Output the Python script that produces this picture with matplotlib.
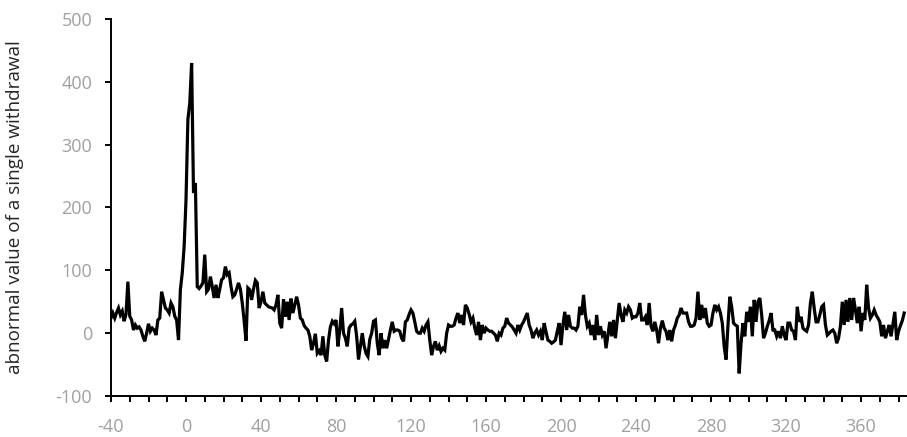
import numpy as np
import matplotlib
matplotlib.use("Agg")
import matplotlib.pyplot as plt

# Daily abnormal value of a single withdrawal, day -40 to day 383
start_day = -40
abnormal_values = [
    24, 32, 24, 33, 40, 29, 35, 19, 30, 82,          # -40 .. -31
    27, 21, 5, 13, 8, 10, 5, -5, -13, 0,             # -30 .. -21
    15, 3, 8, 5, -3, 21, 24, 66, 53, 40,             # -20 .. -11
    37, 32, 48, 42, 27, 21, -11, 69, 96, 138,        # -10 .. -1
    212, 340, 366, 430, 223, 239, 74, 71, 75, 80,    # 0 .. 9
    125, 66, 70, 90, 74, 56, 77, 56, 70, 85,         # 10 .. 19
    88, 106, 93, 96, 74, 58, 61, 70, 80, 70,         # 20 .. 29
    48, 20, -12, 72, 69, 53, 70, 84, 80, 40,         # 30 .. 39
    50, 66, 48, 45, 42, 41, 40, 37, 45, 61,          # 40 .. 49
    16, 8, 54, 26, 50, 21, 55, 32, 45, 58,           # 50 .. 59
    45, 24, 21, 12, 8, 5, -5, -27, -16, -1,          # 60 .. 69
    -32, -28, -35, -5, -35, -45, -11, 10, 19, 15,    # 70 .. 79
    21, -21, 5, 40, 0, -8, -21, 8, 13, 15,           # 80 .. 89
    19, -5, -42, -21, 0, -20, -32, -37, -10, 0,      # 90 .. 99
    19, 21, -16, -35, 0, -24, -11, -24, -10, 5,      # 100 .. 109
    18, 3, 5, 5, 3, -8, -13, 18, 21, 30,             # 110 .. 119
    37, 32, 18, 3, 0, 0, 8, 3, 13, 18,               # 120 .. 129
    -11, -35, -21, -13, -27, -20, -29, -24, -27, 0,  # 130 .. 139
    13, 11, 11, 13, 24, 32, 16, 29, 13, 45,          # 140 .. 149
    40, 30, 18, 24, 8, -3, 18, -11, 13, 0,           # 150 .. 159
    8, 5, 3, 3, 0, -3, -13, 0, -3, 8,                # 160 .. 169
    11, 24, 16, 13, 10, 5, 0, 13, 5, 13,             # 170 .. 179
    18, 25, 32, 13, 5, -8, 0, 5, -3, 3,              # 180 .. 189
    -11, 16, 2, -11, -13, -16, -14, -11, 3, 16,      # 190 .. 199
    -19, 13, 34, 5, 29, 11, 8, 8, 5, 11,             # 200 .. 209
    42, 29, 61, 29, 11, 16, -3, 13, -11, 29,         # 210 .. 219
    -3, 11, -3, 3, -24, -3, 18, -5, 21, -8,          # 220 .. 229
    21, 48, 29, 18, 37, 32, 42, 37, 24, 26,          # 230 .. 239
    26, 32, 48, 21, 21, 26, 13, 48, 11, 3,           # 240 .. 249
    18, 5, -16, 8, 20, 8, 3, -11, 5, -13,            # 250 .. 259
    5, 13, 24, 29, 40, 32, 32, 32, 18, 11,           # 260 .. 269
    11, 13, 24, 66, 21, 45, 24, 40, 16, 11,          # 270 .. 279
    13, 32, 45, 37, 42, 32, 16, -21, -42, 11,        # 280 .. 289
    58, 42, 16, 13, 11, -64, -16, 16, -5, 34,        # 290 .. 299
    18, 42, -5, 53, 18, 50, 56, 29, -8, 0,           # 300 .. 309
    11, 20, 32, 5, 5, -5, 3, -8, 11, -3,             # 310 .. 319
    -11, 16, 16, 5, 3, -11, 42, 18, 26, 8,           # 320 .. 329
    5, 3, 13, 48, 66, 40, 18, 18, 29, 42,            # 330 .. 339
    45, 13, -3, 0, 3, 5, 0, -16, -8, 11,             # 340 .. 349
    50, 13, 53, 18, 56, 21, 56, 37, 16, 42,          # 350 .. 359
    3, 32, 21, 77, 40, 24, 29, 37, 29, 24,           # 360 .. 369
    18, -5, 13, -8, 3, 13, -5, 15, 34, -11,          # 370 .. 379
    3, 12, 20, 32,                                   # 380 .. 383
]
days = np.arange(start_day, start_day + len(abnormal_values))

x_tick_labels = [-40, 0, 40, 80, 120, 160, 200, 240, 280, 320, 360]
y_tick_labels = [-100, 0, 100, 200, 300, 400, 500]
y_title = "abnormal value of a single withdrawal"

plt.rcParams["font.family"] = ["Open Sans", "DejaVu Sans"]

fig = plt.figure(figsize=(9.07, 4.37), dpi=100)
ax = fig.add_axes([111 / 907, 41 / 437, 796 / 907, 377 / 437])

ax.plot(days, abnormal_values, color="black", linewidth=2.3, solid_joinstyle="miter")

ax.set_xlim(-40, 384.5)
ax.set_ylim(-100, 500)

# minor ticks every 10 days, labels every 40 days
x_positions = np.arange(-40, 385, 10)
ax.set_xticks(x_positions)
ax.set_xticklabels([str(v) if v in x_tick_labels else "" for v in x_positions])
ax.set_yticks(y_tick_labels)
ax.set_yticklabels([str(v) for v in y_tick_labels])

for side in ("top", "right"):
    ax.spines[side].set_visible(False)
for side in ("left", "bottom"):
    ax.spines[side].set_linewidth(1.4)
    ax.spines[side].set_color("black")

label_grey = "#a0a0a0"
ax.tick_params(axis="x", direction="out", length=4, width=1.4, color="black",
               labelsize=13, labelcolor=label_grey, pad=12)
ax.tick_params(axis="y", direction="out", length=4, width=1.4, color="black",
               labelsize=13, labelcolor=label_grey, pad=9.5)

ax.set_ylabel(y_title, fontsize=13.6, color="#262626")
ax.yaxis.set_label_coords(-87 / 796, 0.5)

fig.savefig("out.png", dpi=100)
